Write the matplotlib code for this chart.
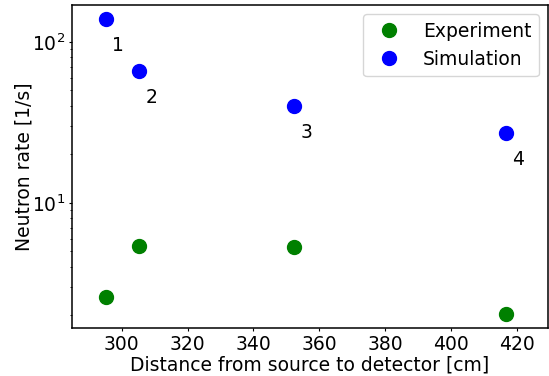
import numpy as np
import matplotlib
matplotlib.use("Agg")
import matplotlib.pyplot as plt

# detector distances [cm] and measured / simulated neutron rates [1/s]
distance = [295.1, 305.3, 352.4, 416.7]
rate_exp = [2.61, 5.38, 5.35, 2.04]
rate_sim = [138.0, 65.8, 39.8, 27.0]
det_labels = ["1", "2", "3", "4"]

plt.rcParams['font.size'] = 13.5
plt.rcParams['xtick.labelsize'] = 13.5
plt.rcParams['ytick.labelsize'] = 13.5
plt.rcParams['axes.linewidth'] = 1.1
plt.rcParams['xtick.major.size'] = 2.4
plt.rcParams['ytick.major.size'] = 2.4
plt.rcParams['ytick.minor.size'] = 1.5
plt.rcParams['xtick.major.pad'] = 2.5
plt.rcParams['ytick.major.pad'] = 2.5

fig = plt.figure(figsize=(5.49, 3.76), dpi=100)
ax = fig.add_axes([0.131, 0.1277, 0.8677, 0.8598])

ax.plot(distance, rate_exp, 'o', color='green', ms=10, label='Experiment')
ax.plot(distance, rate_sim, 'o', color='blue', ms=10, label='Simulation')

# detector numbers next to the simulated points
for x, y, lab in zip(distance, rate_sim, det_labels):
    ax.annotate(lab, (x, y), xytext=(8.6, -19), textcoords='offset points',
                ha='center', va='center')

ax.set_yscale('log')
ax.set_xlim(284.9, 429.5)
ax.set_ylim(1.67, 170)
ax.set_xticks([300, 320, 340, 360, 380, 400, 420])

ax.set_xlabel('Distance from source to detector [cm]', labelpad=1)
ax.set_ylabel('Neutron rate [1/s]', labelpad=-1)
ax.legend(loc='upper right')

fig.savefig('out.png', dpi=100)
